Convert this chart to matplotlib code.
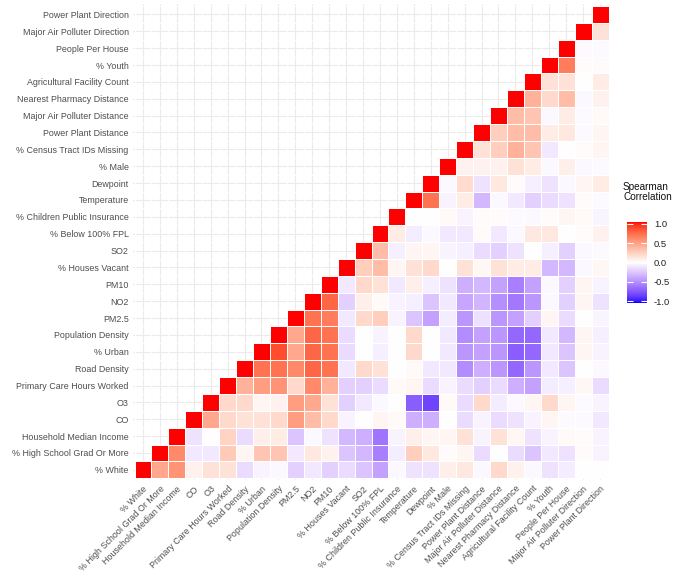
import numpy as np
import matplotlib
matplotlib.use("Agg")
import matplotlib.pyplot as plt
from matplotlib.colors import ListedColormap

plt.rcParams['font.family'] = ['Liberation Sans', 'DejaVu Sans']

labels = ["% White", "% High School Grad Or More", "Household Median Income", "CO", "O3",
          "Primary Care Hours Worked", "Road Density", "% Urban", "Population Density",
          "PM2.5", "NO2", "PM10", "% Houses Vacant", "SO2", "% Below 100% FPL",
          "% Children Public Insurance", "Temperature", "Dewpoint", "% Male",
          "% Census Tract IDs Missing", "Power Plant Distance", "Major Air Polluter Distance",
          "Nearest Pharmacy Distance", "Agricultural Facility Count", "% Youth",
          "People Per House", "Major Air Polluter Direction", "Power Plant Direction"]

# correlation of each variable with every variable listed after it
r_white = [0.45, 0.55, 0.07, 0.15, 0.15, -0.15, -0.05, -0.03, -0.2, -0.1, -0.2, -0.15, -0.25,
           -0.4, -0.03, -0.12, -0.12, 0.08, 0.12, -0.03, 0.2, 0.07, -0.03, -0.12, -0.08, 0.0, 0.0]
r_hs = [0.6, -0.1, -0.1, 0.28, 0.05, 0.3, 0.3, -0.1, 0.12, 0.07, -0.25, -0.3, -0.55, -0.08,
        0.25, 0.12, 0.02, 0.05, -0.15, 0.0, -0.15, -0.25, -0.1, -0.12, 0.02, -0.05]
r_income = [-0.12, 0.0, 0.22, -0.15, 0.08, 0.1, -0.25, -0.03, -0.12, -0.3, -0.35, -0.6, -0.05,
            0.08, 0.05, 0.05, 0.15, -0.05, 0.15, 0.04, -0.12, -0.05, 0.03, 0.02, -0.05]
r_co = [0.45, 0.2, 0.15, 0.15, 0.2, 0.5, 0.35, 0.2, -0.05, 0.0, 0.05, 0.03, -0.35, -0.35, 0.0,
        -0.15, -0.05, -0.15, -0.12, -0.05, 0.05, -0.02, -0.02, -0.1]
r_o3 = [0.2, 0.2, 0.05, 0.07, 0.5, 0.45, 0.15, -0.2, -0.1, -0.03, 0.0, -0.7, -0.8, 0.03, -0.15,
        0.2, -0.08, -0.03, 0.05, 0.2, 0.05, -0.02, -0.05]
r_pchw = [0.4, 0.5, 0.55, 0.2, 0.6, 0.4, -0.2, -0.2, -0.15, 0.03, 0.05, -0.15, -0.05, -0.15,
          -0.2, -0.15, -0.35, -0.4, -0.08, -0.07, 0.04, -0.15]
r_road = [0.7, 0.7, 0.6, 0.75, 0.7, -0.1, 0.2, 0.15, 0.0, 0.03, -0.1, -0.1, -0.5, -0.35, -0.45,
          -0.65, -0.45, -0.1, -0.25, 0.0, -0.03]
r_urban = [0.85, 0.45, 0.75, 0.7, -0.15, 0.0, -0.07, 0.0, 0.2, 0.0, -0.1, -0.45, -0.4, -0.45,
           -0.7, -0.65, -0.1, -0.25, 0.05, -0.05]
r_popdens = [0.45, 0.75, 0.7, -0.15, 0.0, -0.05, 0.0, 0.2, 0.0, -0.1, -0.5, -0.4, -0.45, -0.65,
             -0.65, -0.1, -0.3, 0.05, -0.07]
r_pm25 = [0.7, 0.65, -0.1, 0.2, 0.25, -0.05, -0.25, -0.4, -0.08, -0.45, -0.13, -0.45, -0.4,
          -0.2, 0.05, -0.15, 0.0, -0.04]
r_no2 = [0.75, -0.2, 0.08, 0.03, -0.05, -0.07, -0.25, -0.1, -0.38, -0.32, -0.48, -0.58, -0.45,
         -0.03, -0.2, 0.05, -0.12]
r_pm10 = [-0.1, 0.2, 0.15, -0.1, 0.08, -0.07, -0.12, -0.35, -0.3, -0.4, -0.55, -0.4, -0.03,
          -0.2, 0.05, -0.05]
r_vacant = [0.25, 0.35, 0.05, 0.15, 0.2, 0.0, 0.15, 0.04, 0.15, 0.1, 0.1, -0.3, -0.3, -0.03, 0.04]
r_so2 = [0.35, -0.07, 0.05, 0.05, -0.05, -0.07, -0.15, -0.2, -0.12, 0.0, -0.07, -0.2, -0.03, -0.02]
r_fpl = [0.1, -0.08, -0.03, -0.1, -0.1, 0.02, -0.1, -0.03, 0.12, 0.12, 0.0, 0.02, 0.07]
r_insur = [0.0, 0.0, 0.03, -0.05, 0.02, 0.02, -0.02, -0.03, 0.02, 0.05, 0.03, -0.04]
r_temp = [0.7, -0.05, 0.1, -0.3, -0.03, -0.1, -0.2, -0.15, -0.12, 0.02, -0.02]
r_dew = [-0.03, 0.18, -0.12, 0.12, 0.02, -0.07, -0.12, -0.03, 0.05, 0.1]
r_male = [0.07, 0.07, 0.07, 0.15, 0.1, -0.03, 0.08, -0.03, -0.02]
r_census = [0.15, 0.25, 0.4, 0.3, -0.1, 0.0, 0.02, 0.05]
r_ppdist = [0.25, 0.35, 0.35, 0.1, 0.12, -0.02, 0.05]
r_mapdist = [0.35, 0.3, -0.03, 0.1, -0.02, 0.03]
r_pharm = [0.4, 0.2, 0.35, -0.03, 0.07]
r_ag = [0.15, 0.15, 0.0, 0.1]
r_youth = [0.65, 0.02, 0.02]
r_pph = [-0.02, -0.02]
r_mapdir = [0.15]

rows = [r_white, r_hs, r_income, r_co, r_o3, r_pchw, r_road, r_urban, r_popdens, r_pm25,
        r_no2, r_pm10, r_vacant, r_so2, r_fpl, r_insur, r_temp, r_dew, r_male, r_census,
        r_ppdist, r_mapdist, r_pharm, r_ag, r_youth, r_pph, r_mapdir]

n = len(labels)
corr = np.full((n, n), np.nan)
for i in range(n):
    corr[i, i] = 1.0
for i, r in enumerate(rows):
    corr[i, i + 1:] = r
corr = np.ma.masked_invalid(corr)


# blue - white - red interpolated in Lab space (like ggplot's gradient2)
def to_lab(rgb):
    c = np.asarray(rgb, float)
    c = np.where(c <= 0.04045, c / 12.92, ((c + 0.055) / 1.055) ** 2.4)
    m = np.array([[0.4124, 0.3576, 0.1805], [0.2126, 0.7152, 0.0722], [0.0193, 0.1192, 0.9505]])
    xyz = m @ c / np.array([0.95047, 1.0, 1.08883])
    f = np.where(xyz > (6 / 29) ** 3, np.cbrt(xyz), xyz / (3 * (6 / 29) ** 2) + 4 / 29)
    return np.array([116 * f[1] - 16, 500 * (f[0] - f[1]), 200 * (f[1] - f[2])])


def from_lab(lab):
    L, a, b = lab
    fy = (L + 16) / 116
    f = np.array([fy + a / 500, fy, fy - b / 200])
    xyz = np.where(f > 6 / 29, f ** 3, 3 * (6 / 29) ** 2 * (f - 4 / 29)) * np.array([0.95047, 1.0, 1.08883])
    minv = np.linalg.inv(np.array([[0.4124, 0.3576, 0.1805], [0.2126, 0.7152, 0.0722], [0.0193, 0.1192, 0.9505]]))
    c = np.clip(minv @ xyz, 0, 1)
    c = np.where(c <= 0.0031308, 12.92 * c, 1.055 * c ** (1 / 2.4) - 0.055)
    return np.clip(c, 0, 1)


blue, white, red = to_lab([0, 0, 1]), to_lab([1, 1, 1]), to_lab([1, 0, 0])
cols = []
for t in np.linspace(-1, 1, 256):
    if t < 0:
        cols.append(from_lab(white + (blue - white) * (-t)))
    else:
        cols.append(from_lab(white + (red - white) * t))
cmap = ListedColormap(cols)

fig = plt.figure(figsize=(6.85, 5.88), dpi=100)
ax = fig.add_axes([0.1939, 0.1837, 0.6969, 0.809])
ax.pcolormesh(np.arange(n + 1) - 0.5, np.arange(n + 1) - 0.5, corr.T.T if False else corr,
              cmap=cmap, vmin=-1, vmax=1, edgecolors='white', linewidth=0.6)
ax.set_xlim(-0.6, n - 0.4)
ax.set_ylim(-0.6, n - 0.4)
ax.set_xticks(range(n))
ax.set_yticks(range(n))
ax.set_xticklabels(labels, rotation=45, ha='right', va='top', rotation_mode='anchor',
                   fontsize=6.4, color='#4D4D4D')
ax.set_yticklabels(labels, fontsize=6.4, color='#4D4D4D')
ax.tick_params(length=0, pad=3)
ax.grid(True, color='#EBEBEB', linewidth=0.8)
ax.set_axisbelow(True)
for s in ax.spines.values():
    s.set_visible(False)

# colour bar legend
cax = fig.add_axes([627 / 685, 1 - 303 / 588, 20 / 685, 81 / 588])
grad = np.linspace(-1, 1, 300).reshape(-1, 1)
cax.imshow(grad, cmap=cmap, vmin=-1, vmax=1, aspect='auto', origin='lower', extent=[0, 1, -1.04, 1.04])
cax.set_xlim(0, 1)
cax.set_ylim(-1.04, 1.04)
cax.set_xticks([])
ticks = [-1.0, -0.5, 0.0, 0.5, 1.0]
cax.set_yticks(ticks)
cax.set_yticklabels([f"{t:.1f}" for t in ticks], fontsize=6.8, color='#222222')
cax.yaxis.tick_right()
cax.tick_params(axis='y', direction='in', color='white', length=4, width=0.8,
                left=True, right=True, labelleft=False, labelright=True, pad=5)
for s in cax.spines.values():
    s.set_visible(False)
fig.text(623 / 685, 1 - 182 / 588, "Spearman\nCorrelation", fontsize=7.2, va='top', ha='left',
         linespacing=1.0, color='#111111')

fig.savefig("out.png", dpi=100)
